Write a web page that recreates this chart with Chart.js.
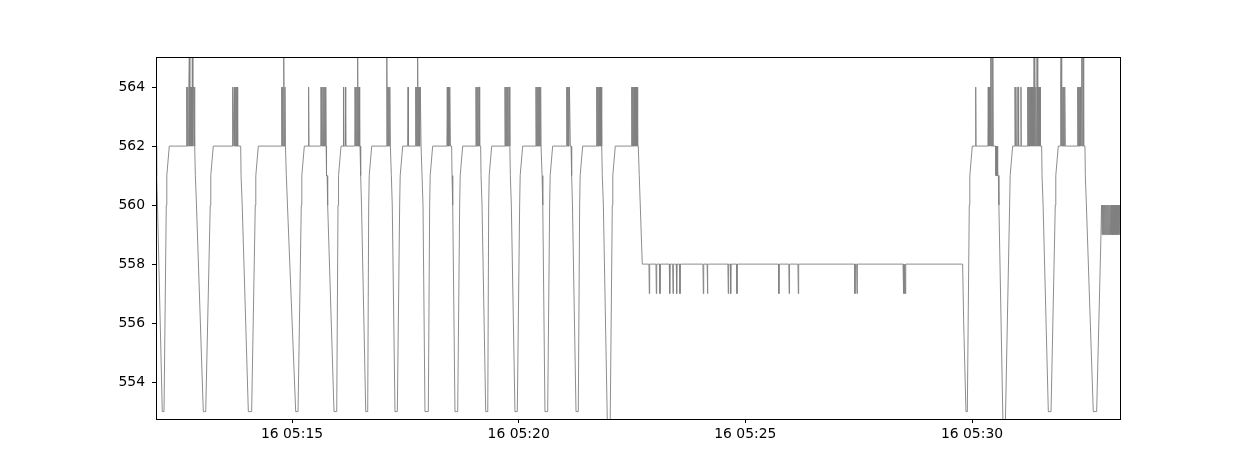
<!DOCTYPE html>
<html>
<head>
<meta charset="utf-8">
<script src="https://cdn.jsdelivr.net/npm/chart.js@4/dist/chart.umd.min.js"></script>
<style>
  html, body { margin: 0; padding: 0; background: #ffffff; }
  canvas { display: block; }
</style>
</head>
<body>
<canvas id="c" width="1246" height="471"></canvas>
<script>
// Time is in seconds after 16 05:12:00.
const xTickSeconds = [180, 480, 780, 1080];
const xTickLabels = ["16 05:15", "16 05:20", "16 05:25", "16 05:30"];
const yTickValues = [554, 556, 558, 560, 562, 564];

// Cycles 05:12:00 - 05:16:40 (vertices [seconds, value])
const rampsEarly = [
  [0,562],[0.5,561],[1.3,561],[2,560],[8.3,553],[10.6,553],[13.6,560],[14.3,561],[17.6,562],
  [40,562],[40.6,564],[41.3,562],[42,564],[42.7,562],[43.4,564],[44.1,565],[44.8,562],[45.5,564],[46.2,562],[46.9,564],[47.5,562],[48.1,565],[48.8,562],[49.5,564],[50.3,564],[50.8,562],
  [51.6,562],[52.1,561],[52.9,561],[53.6,560],[62.6,553],[65.8,553],[71.8,560],[72.5,561],[75.8,562],
  [101,562],[101.5,564],[102,562],[103.1,562],[103.6,564],[104.1,562],[104.9,562],[105.4,564],[106,562],[106.5,564],[107.1,562],[107.6,564],[108.1,562],
  [112.1,562],[112.6,561],[113.4,561],[114.1,560],[122.2,553],[126.6,553],[131.4,560],[132.1,561],[135.4,562],
  [166,562],[166.4,564],[167,562],[167.6,564],[168.2,562],[168.8,564],[169.4,565],[170,562],[170.7,564],[171.3,562],
  [172,562],[172.5,561],[173.3,561],[174,560],[184.9,553],[188,553],[192.3,560],[193,561],[196.3,562],
  [201.5,562],[202,564],[202.5,562],[218,562],[218.4,564],[219,562],[219.7,564],[220.3,562],[221,564],[221.6,562],[222.3,564],[222.9,562],[223.6,564],[224.3,562],[224.7,564],
  [225.2,562],[225.7,561],[226.5,561],[227.2,560],[235.6,553],[239.2,553],[240.9,560],[241.6,561],[244.9,562],
  [247.5,562],[247.9,564],[248.4,562],[250.1,562],[250.6,564],[251.1,562],[263,562],[263.4,564],[264,562],[264.6,564],[265.2,562],[265.8,564],[266.4,562],[266.9,565],[267.5,562],[268.1,564],[268.6,562],[269.1,564],[269.6,562],
  [270,562],[270.5,561],[271.3,561],[272,560],[277.6,553],[280.2,553],[281.5,560],[282.2,561],[285.5,562],
  [304.8,562],[305.3,564],[305.7,565],[306.3,562],[306.9,564],[307.5,562],[308.1,564],[308.7,562],[309.2,564],[309.7,564],[310.2,562],
  [311,562],[311.5,561],[312.1,561],[312.7,560],[316.3,553],[319.4,553],[322.5,560],[323.2,561],[326.5,562]
];

// Cycles 05:17:25 - 05:22:45 and the drop to the 558 plateau
const rampsMid = [
  [333.1,562],[333.6,564],[334.1,562],[343.2,562],[343.7,564],[344.3,562],[344.9,564],[345.5,562],[346.3,565],[346.9,562],[347.5,564],[348.1,562],[348.7,564],[349.3,562],[349.8,564],[350.3,564],[350.8,562],
  [351.6,562],[352.1,561],[352.8,561],[353.4,560],[356,553],[360.4,553],[362.2,560],[362.9,561],[366.2,562],
  [385,562],[385.5,564],[386.1,562],[386.7,564],[387.3,562],[387.9,564],[388.5,562],[389.1,564],[389.6,562],
  [391.3,562],[391.8,561],[392.4,561],[393,560],[395.7,553],[399.3,553],[401.9,560],[402.6,561],[405.9,562],
  [423,562],[423.5,564],[424.1,562],[424.7,564],[425.3,562],[425.9,564],[426.5,562],[427.1,564],[427.9,564],[428.4,562],
  [429.7,562],[430.2,561],[430.9,561],[431.5,560],[436.4,553],[439.1,553],[440.3,560],[441,561],[444.3,562],
  [461.4,562],[461.9,564],[462.5,562],[463.1,564],[463.7,562],[464.3,564],[464.9,562],[465.5,564],[466.1,562],[466.8,564],[467.6,564],[468.1,562],
  [468.5,562],[469,561],[469.7,561],[470.3,560],[475.1,553],[478.2,553],[481.3,560],[482,561],[485.3,562],
  [502.4,562],[502.9,564],[503.5,562],[504.1,564],[504.7,562],[505.3,564],[505.9,562],[506.5,564],[507.1,562],[507.7,564],[508.3,562],[509.1,564],[509.6,562],
  [510.5,562],[511,561],[511.6,561],[512.2,560],[514.8,553],[518.4,553],[521,560],[521.7,561],[525,562],
  [543.1,562],[543.6,564],[544.2,562],[544.8,564],[545.4,562],[546,564],[546.6,562],[547.2,564],[547.9,564],[548.4,562],
  [549.3,562],[549.8,561],[550.5,561],[551.2,560],[555.9,553],[558.9,553],[560.7,560],[561.4,561],[564.7,562],
  [582.8,562],[583.3,564],[583.9,562],[584.5,564],[585.1,562],[585.7,564],[586.3,562],[586.9,564],[587.5,562],[588.1,564],[588.7,562],[589.3,564],[589.6,564],
  [590.2,562],[590.7,561],[591.4,561],[592.1,560],[597.8,552],[600.9,552],[603.9,560],[604.6,561],[607.9,562],
  [629.1,562],[629.6,564],[630.2,562],[630.8,564],[631.4,562],[632,564],[632.6,562],[633.2,564],[633.8,562],[634.4,564],[635,562],[635.6,564],[636.2,562],[637,564],[637.5,562],
  [638.3,562],[639.6,561],[640.4,561],[643.6,558]
];

// 558 plateau with short dips to 557
const plateauLevel = 558;
const dipLevel = 557;
const plateauDipTimes = [652.9, 662.2, 667.0, 679.9, 684.3, 689.1, 693.5, 724.4, 729.9, 757.4, 760.6, 768.9, 824.4, 838.0, 850.1, 925.1, 927.8, 989.2, 990.5, 991.8];

// Cycles 05:29:48 - 05:32:50
const rampsLate = [
  [1067.6,558],[1069,556],[1072,553],[1073.8,553],[1076.4,560],[1077.1,561],[1080.4,562],
  [1084.4,562],[1084.9,564],[1085.4,562],[1101,562],[1101.5,564],[1102.1,562],[1102.7,564],[1103.3,562],[1103.9,564],[1104.5,562],[1105.1,565],[1105.7,562],[1106.4,565],[1107,562],[1107.6,565],[1108.1,562],
  [1111.2,562],[1111.7,561],[1112.2,562],[1112.7,561],[1113.2,562],
  [1113.7,562],[1114.2,561],[1114.9,561],[1115.6,560],[1121.4,552],[1123.7,552],[1129.8,560],[1130.5,561],[1133.8,562],
  [1136.4,562],[1136.9,564],[1137.5,562],[1138.1,564],[1138.7,562],[1139.9,562],[1140.5,564],[1141.2,564],[1141.7,562],[1144.3,562],[1144.8,564],[1145.3,562],
  [1153.2,562],[1153.7,564],[1154.3,562],[1154.9,564],[1155.5,562],[1156.1,564],[1156.7,562],[1157.3,564],[1157.9,562],[1158.5,564],[1159.1,562],[1159.7,564],[1160.3,562],[1160.9,564],[1161.5,562],[1162.1,565],[1162.7,562],[1163.3,565],[1163.9,562],[1164.5,564],[1165.1,562],[1165.8,565],[1166.4,565],[1167,562],[1167.6,564],[1168.2,562],[1168.8,564],[1169.4,562],[1170,564],[1170.5,562],
  [1172.2,562],[1172.7,561],[1173.4,561],[1174.1,560],[1181,553],[1184.6,553],[1190.2,560],[1190.9,561],[1194.2,562],
  [1196.8,562],[1197.3,564],[1197.8,565],[1198.4,562],[1199,564],[1199.6,562],[1200.2,564],[1200.8,562],[1201.4,564],[1202,562],[1202.5,564],[1203,564],[1203.5,562],
  [1219.4,562],[1219.9,564],[1220.5,562],[1221.1,564],[1221.7,562],[1222.3,564],[1222.9,562],[1223.5,564],[1224.1,562],[1224.7,564],[1225.3,565],[1225.9,562],[1226.6,565],[1227.3,565],[1227.8,562],
  [1229.5,562],[1230,561],[1230.7,561],[1231.4,560],[1240.5,553],[1245,553],[1250.7,559]
];

// Final 559/560 flicker
const tailTimes = [1251.4,1252.1,1252.8,1253.5,1254.2,1254.9,1255.6,1256.3,1257,1257.7,1258.4,1259.1,1259.8,1260.5,1261.2,1261.9,1262.6,1263.3,1264,1264.7,1265.4,1266.1,1266.8,1267.5,1268.2,1268.9,1269.6,1270.3,1271,1271.7,1272.4,1273.1,1273.8,1274.5,1275.2,1275.9,1276.6,1277.2];
const tailValues = [560,559,560,559,560,559,560,559,560,559,560,559,560,559,560,559,560,559,560,559,560,559,560,559,560,559,560,559,560,559,560,559,560,559,560,559,560,559];

// ---- assemble the polyline from the arrays ----
const toPts = arr => arr.map(p => ({ x: p[0], y: p[1] }));
const points = [...toPts(rampsEarly), ...toPts(rampsMid)];
plateauDipTimes.forEach(t => {
  points.push({ x: t - 0.5, y: plateauLevel }, { x: t, y: dipLevel }, { x: t + 0.5, y: plateauLevel });
});
points.push(...toPts(rampsLate));
tailTimes.forEach((t, i) => points.push({ x: t, y: tailValues[i] }));

const frame = {
  id: 'frame',
  afterDraw(chart) {
    const a = chart.chartArea, c = chart.ctx;
    c.save();
    c.strokeStyle = '#000';
    c.lineWidth = 1;
    c.strokeRect(Math.floor(a.left) + 0.5, Math.floor(a.top) + 0.5,
                 Math.round(a.right - a.left) - 1, Math.round(a.bottom - a.top));
    c.restore();
  }
};

const tickFont = { family: 'DejaVu Sans', size: 13.9 };

new Chart(document.getElementById('c'), {
  type: 'line',
  data: {
    datasets: [{
      data: points,
      borderColor: '#808080',
      borderWidth: 0.9,
      pointRadius: 0,
      tension: 0,
      fill: false
    }]
  },
  options: {
    responsive: false,
    animation: false,
    events: [],
    layout: { padding: { left: 100, right: 125, top: 57, bottom: 0 } },
    plugins: { legend: { display: false }, tooltip: { enabled: false } },
    scales: {
      x: {
        type: 'linear',
        min: 0,
        max: 1277.2,
        afterBuildTicks: s => { s.ticks = xTickSeconds.map(v => ({ value: v })); },
        afterFit: s => { s.height = 52; },
        ticks: {
          autoSkip: false, maxRotation: 0, color: '#000', font: tickFont, padding: 3,
          callback: v => xTickLabels[xTickSeconds.indexOf(v)]
        },
        grid: { drawOnChartArea: false, tickLength: 4, color: '#000', tickWidth: 1 },
        border: { display: false }
      },
      y: {
        type: 'linear',
        min: 552.75,
        max: 565.02,
        afterBuildTicks: s => { s.ticks = yTickValues.map(v => ({ value: v })); },
        afterFit: s => { s.width = 56; },
        ticks: { color: '#000', font: tickFont, padding: 7, callback: v => String(v) },
        grid: { drawOnChartArea: false, tickLength: 4, color: '#000', tickWidth: 1 },
        border: { display: false }
      }
    }
  },
  plugins: [frame]
});
</script>
</body>
</html>
